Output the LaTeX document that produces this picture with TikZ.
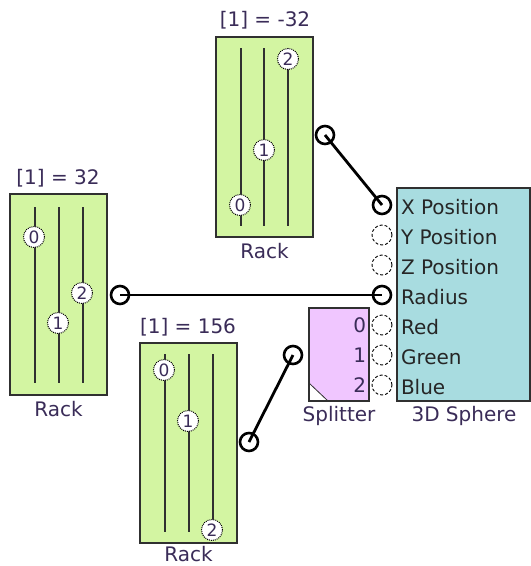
\documentclass[tikz,border=0pt]{standalone}
\usepackage{fontspec}
\setmainfont{DejaVu Sans}
\definecolor{rackfill}{HTML}{D3F5A2}
\definecolor{spherefill}{HTML}{A8DCE0}
\definecolor{splitfill}{HTML}{F0C6FF}
\definecolor{lblcol}{HTML}{3A2C58}
\definecolor{edgecol}{HTML}{303030}
\begin{document}
\begin{tikzpicture}[x=1pt,y=-1pt,
  every node/.style={inner sep=0pt, outer sep=0pt},
  rackbox/.style={draw=edgecol, line width=1.5pt, fill=rackfill, minimum width=97pt, minimum height=200pt},
  lbl/.style={text=lblcol, font=\fontsize{20}{22}\selectfont},
  slider/.style={draw=edgecol, line width=1.8pt},
  knob/.style={circle, draw=black, densely dotted, line width=1pt, fill=white, minimum size=21pt, text=lblcol, font=\fontsize{17}{17}\selectfont},
  port/.style={circle, draw=black, densely dashed, line width=0.9pt, fill=white, minimum size=20pt},
  cport/.style={circle, draw=black, line width=2.6pt, fill=white, minimum size=18pt},
  wire/.style={draw=black, line width=2.8pt},
  plbl/.style={anchor=west, text=black!85, font=\fontsize{20}{22}\selectfont}
]
\useasboundingbox (0,0) rectangle (531,566);
\fill[white] (0,0) rectangle (531,566);

% ---------- top rack ----------
\node[rackbox] (rackA) at (264.5,137) {};
\node[lbl] (rackAval) at (265,20) {[1] = -32};
\node[lbl] (rackAname) at (264.5,251) {Rack};
\draw[slider] (241,48) -- (241,226);
\draw[slider] (264,48) -- (264,226);
\draw[slider] (288,48) -- (288,226);
\node[knob] (rackAk0) at (240,205) {0};
\node[knob] (rackAk1) at (264,150) {1};
\node[knob] (rackAk2) at (288,59) {2};

% ---------- left rack ----------
\node[rackbox, minimum height=201pt] (rackB) at (58.5,294.5) {};
\node[lbl] (rackBval) at (58,178) {[1] = 32};
\node[lbl] (rackBname) at (58.5,409) {Rack};
\draw[slider] (35,207) -- (35,383);
\draw[slider] (59,207) -- (59,383);
\draw[slider] (83,207) -- (83,383);
\node[knob] (rackBk0) at (34,237) {0};
\node[knob] (rackBk1) at (58,323) {1};
\node[knob] (rackBk2) at (82,293) {2};

% ---------- bottom rack ----------
\node[rackbox] (rackC) at (188.5,443) {};
\node[lbl] (rackCval) at (188,327) {[1] = 156};
\node[lbl] (rackCname) at (188.5,554) {Rack};
\draw[slider] (165,354) -- (165,532);
\draw[slider] (189,354) -- (189,532);
\draw[slider] (213,354) -- (213,532);
\node[knob] (rackCk0) at (164,370) {0};
\node[knob] (rackCk1) at (188,421) {1};
\node[knob] (rackCk2) at (212,530) {2};

% ---------- splitter ----------
\node[draw=edgecol, line width=1.5pt, fill=splitfill, minimum width=60pt, minimum height=93pt] (split) at (339,354.5) {};
\fill[white] (split.south west) -- ++(19,0) -- ++(-19,-18) -- cycle;
\draw[edgecol, line width=0.8pt] ([xshift=19pt]split.south west) -- ([yshift=18pt]split.south west);
\draw[edgecol, line width=1.5pt] (split.south west) rectangle (split.north east);
\node[lbl, anchor=east] (split0) at (366,325) {0};
\node[lbl, anchor=east] (split1) at (366,355) {1};
\node[lbl, anchor=east] (split2) at (366,385) {2};
\node[lbl] (splitname) at (339,416) {Splitter};

% ---------- 3D sphere ----------
\node[draw=edgecol, line width=1.5pt, fill=spherefill, minimum width=133pt, minimum height=213pt] (sphere) at (463.5,294.5) {};
\node[plbl] (lx) at (401,207) {X Position};
\node[plbl] (ly) at (401,237) {Y Position};
\node[plbl] (lz) at (401,267) {Z Position};
\node[plbl] (lr) at (401,297) {Radius};
\node[plbl] (lred) at (401,327) {Red};
\node[plbl] (lgreen) at (401,357) {Green};
\node[plbl] (lblue) at (401,387) {Blue};
\node[lbl] (spherename) at (464,416) {3D Sphere};

% ---------- ports ----------
\node[cport] (sx) at (382,205) {};
\node[port] (sy) at (382,235) {};
\node[port] (sz) at (382,265) {};
\node[cport] (sr) at (382,295) {};
\node[port] (sred) at (382,325) {};
\node[port] (sgreen) at (382,355) {};
\node[port] (sblue) at (382,385) {};
\node[cport] (rackAout) at (325,135) {};
\node[cport] (rackBout) at (120,295) {};
\node[cport] (rackCout) at (249,442) {};
\node[cport] (splitin) at (293,355) {};

% ---------- wires ----------
\draw[wire] (rackAout.center) -- (sx.center);
\draw[wire] (rackBout.center) -- (sr.center);
\draw[wire] (rackCout.center) -- (splitin.center);
\end{tikzpicture}
\end{document}
